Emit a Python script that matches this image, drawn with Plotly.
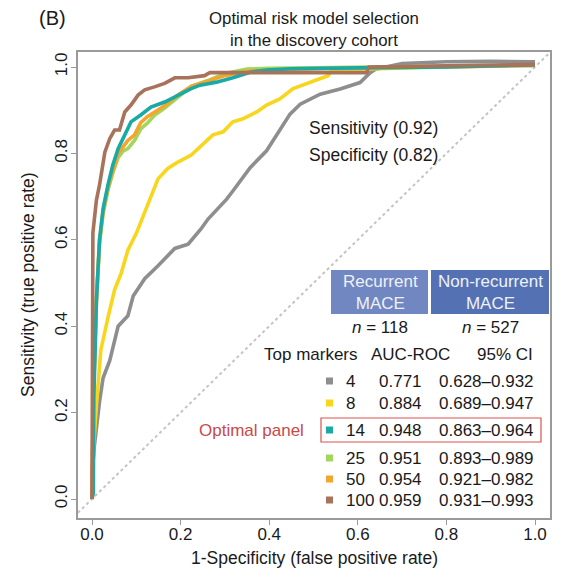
import plotly.graph_objects as go

# ---------------- data ----------------
models = ["4", "8", "14", "25", "50", "100"]
auc = ["0.771", "0.884", "0.948", "0.951", "0.954", "0.959"]
ci = ["0.628–0.932", "0.689–0.947", "0.863–0.964", "0.893–0.989", "0.921–0.982", "0.931–0.993"]
colors = ["#8e8e8e", "#f7d61c", "#19aaa6", "#a3d65c", "#f5a52d", "#a8725b"]

grey_fpr = [0, 0.0, 0.005, 0.012, 0.017, 0.025, 0.04, 0.059, 0.081, 0.093, 0.119, 0.149, 0.187, 0.217,
            0.246, 0.262, 0.304, 0.318, 0.357, 0.394, 0.424, 0.447, 0.470, 0.515, 0.56, 0.605, 0.628,
            0.64, 0.7, 0.8, 0.9, 1.0]
grey_tpr = [0, 0.05, 0.12, 0.19, 0.225, 0.28, 0.32, 0.40, 0.424, 0.47, 0.51, 0.54, 0.58, 0.59,
            0.625, 0.648, 0.694, 0.713, 0.767, 0.806, 0.852, 0.891, 0.914, 0.937, 0.949, 0.964, 0.987,
            0.995, 1.008, 1.012, 1.013, 1.012]

yel_fpr = [0, 0.002, 0.0098, 0.02, 0.036, 0.051, 0.066, 0.081, 0.1, 0.119, 0.13, 0.149, 0.171, 0.194,
           0.224, 0.244, 0.273, 0.296, 0.318, 0.341, 0.372, 0.394, 0.424, 0.454, 0.485, 0.521, 0.533,
           0.54, 0.6, 0.8, 1.0]
yel_tpr = [0, 0.1, 0.214, 0.345, 0.42, 0.484, 0.523, 0.576, 0.615, 0.662, 0.692, 0.741, 0.765, 0.78,
           0.796, 0.815, 0.843, 0.85, 0.873, 0.88, 0.896, 0.912, 0.926, 0.95, 0.962, 0.977, 0.98,
           0.99, 0.995, 1.0, 1.005]

teal_fpr = [0, 0.003, 0.004, 0.007, 0.01, 0.017, 0.025, 0.036, 0.047, 0.059, 0.074, 0.088, 0.11, 0.133,
            0.164, 0.194, 0.224, 0.244, 0.281, 0.318, 0.357, 0.394, 0.45, 0.6, 0.8, 1.0]
teal_tpr = [0, 0.014, 0.23, 0.36, 0.46, 0.6, 0.672, 0.727, 0.773, 0.811, 0.843, 0.873, 0.889, 0.907,
            0.919, 0.935, 0.95, 0.958, 0.965, 0.975, 0.988, 0.993, 0.996, 0.998, 1.0, 1.005]

green_fpr = [0, 0.003, 0.01, 0.017, 0.025, 0.036, 0.047, 0.059, 0.07, 0.081, 0.096, 0.11, 0.125, 0.141,
             0.164, 0.194, 0.224, 0.26, 0.3, 0.35, 0.4, 0.5, 0.6, 0.8, 1.0]
green_tpr = [0, 0.23, 0.46, 0.59, 0.66, 0.715, 0.755, 0.79, 0.805, 0.811, 0.83, 0.857, 0.87, 0.888,
             0.905, 0.93, 0.955, 0.968, 0.985, 0.995, 0.997, 0.998, 1.0, 1.002, 1.005]

orange_fpr = [0, 0.003, 0.01, 0.017, 0.025, 0.036, 0.047, 0.059, 0.07, 0.081, 0.096, 0.11, 0.125, 0.141,
              0.164, 0.194, 0.224, 0.26, 0.3, 0.35, 0.45, 0.6, 0.8, 1.0]
orange_tpr = [0, 0.23, 0.46, 0.6, 0.665, 0.72, 0.76, 0.80, 0.815, 0.83, 0.843, 0.871, 0.885, 0.896,
              0.91, 0.935, 0.955, 0.967, 0.98, 0.99, 0.995, 0.998, 1.0, 1.003]

brown_fpr = [0, 0.0, 0.0, 0.0, 0.002, 0.01, 0.017, 0.029, 0.04, 0.051, 0.062, 0.074, 0.088, 0.104,
             0.119, 0.141, 0.164, 0.187, 0.217, 0.254, 0.266, 0.4, 0.62, 0.625, 0.8, 1.0]
brown_tpr = [0, 0.23, 0.46, 0.55, 0.616, 0.692, 0.727, 0.803, 0.834, 0.854, 0.854, 0.896, 0.912, 0.935,
             0.947, 0.954, 0.962, 0.975, 0.975, 0.98, 0.987, 0.987, 0.987, 1.0, 1.003, 1.006]

curves = [(grey_fpr, grey_tpr), (yel_fpr, yel_tpr), (green_fpr, green_tpr),
          (orange_fpr, orange_tpr), (teal_fpr, teal_tpr), (brown_fpr, brown_tpr)]
curve_idx = [0, 1, 3, 4, 2, 5]  # draw order: grey, yellow, green, orange, teal, brown

x_ticks = [0.0, 0.2, 0.4, 0.6, 0.8, 1.0]
y_ticks = [0.0, 0.2, 0.4, 0.6, 0.8, 1.0]

# ---------------- layout geometry ----------------
W, H = 564, 577
L, R, T, B = 78, 550, 52, 518
FONT = "Liberation Sans, Arial, sans-serif"


def px(x):
    return (x - L) / (R - L)


def py(y):
    return (B - y) / (B - T)


fig = go.Figure()

# diagonal reference
fig.add_trace(go.Scatter(x=[-0.1, 1.1], y=[-0.1, 1.1], mode="lines",
                         line=dict(color="#c4c4c4", width=2, dash="dot"),
                         hoverinfo="skip", showlegend=False))

for k, (fx, ty) in zip(curve_idx, curves):
    fig.add_trace(go.Scatter(x=fx, y=ty, mode="lines", name=models[k],
                             line=dict(color=colors[k], width=3.6),
                             showlegend=False))

ann = []
shapes = []


def text(x, y, s, size=17, color="#1a1a1a", xanchor="left", **kw):
    ann.append(dict(x=px(x), y=py(y), xref="paper", yref="paper", text=s, showarrow=False,
                    xanchor=xanchor, yanchor="middle", font=dict(family=FONT, size=size, color=color),
                    **kw))


# title and panel label
text(314, 29, "Optimal risk model selection<br>in the discovery cohort", size=16.8, xanchor="center")
text(37, 18, "(B)", size=20)

# axis titles
text(314, 558, "1-Specificity (false positive rate)", size=17.5, xanchor="center")
text(28, 285, "Sensitivity (true positive rate)", size=17.5, xanchor="center", textangle=-90)

# sens / spec
text(307, 128, "Sensitivity (0.92)", size=17.5)
text(307, 155, "Specificity (0.82)", size=17.5)

# header boxes
shapes.append(dict(type="rect", xref="paper", yref="paper", x0=px(331), x1=px(428), y0=py(270), y1=py(314),
                   fillcolor="#7187c1", line=dict(width=0), layer="above"))
shapes.append(dict(type="rect", xref="paper", yref="paper", x0=px(431), x1=px(549), y0=py(270), y1=py(314),
                   fillcolor="#5471b4", line=dict(width=0), layer="above"))
text(380, 292, "Recurrent<br>MACE", color="#eef1f8", xanchor="center")
text(490, 292, "Non-recurrent<br>MACE", color="#eef1f8", xanchor="center")
text(380, 327, "<i>n</i> = 118", xanchor="center")
text(490, 327, "<i>n</i> = 527", xanchor="center")

# table header
text(262, 355, "Top markers")
text(369, 355, "AUC-ROC")
text(475, 355, "95% CI")

row_y = [381, 403, 430, 458, 479, 500]
for i in range(6):
    y = row_y[i]
    shapes.append(dict(type="rect", xref="paper", yref="paper", x0=px(326), x1=px(333),
                       y0=py(y - 3.5), y1=py(y + 3.5), fillcolor=colors[i], line=dict(width=0),
                       layer="above"))
    text(344, y, models[i])
    text(377, y, auc[i])
    text(437, y, ci[i])

# optimal panel highlight
shapes.append(dict(type="rect", xref="paper", yref="paper", x0=px(321), x1=px(541), y0=py(418), y1=py(442),
                   line=dict(color="#d9534f", width=1.2), fillcolor="rgba(0,0,0,0)", layer="above"))
text(306, 430, "Optimal panel", color="#c9494a", xanchor="right")

fig.update_layout(
    width=W, height=H,
    margin=dict(l=L, r=W - R, t=T, b=H - B, pad=0),
    paper_bgcolor="white", plot_bgcolor="white",
    annotations=ann, shapes=shapes,
    font=dict(family=FONT, size=17, color="#1a1a1a"),
    showlegend=False,
)

xr0 = -(92 - L) / 443
xr1 = (R - 92) / 443
yr0 = -(B - 499) / 432
yr1 = (499 - T) / 432

fig.update_xaxes(range=[xr0, xr1], tickvals=x_ticks, ticktext=[f"{v:.1f}" for v in x_ticks],
                 showgrid=False, zeroline=False, showline=True, mirror=True, linecolor="#9a9a9a",
                 linewidth=2, ticks="outside", ticklen=5, tickcolor="#9a9a9a", tickwidth=1,
                 ticklabelstandoff=-5,
                 tickfont=dict(family=FONT, size=17, color="#1a1a1a"))
fig.update_yaxes(range=[yr0, yr1], tickvals=y_ticks, ticktext=[f"{v:.1f}" for v in y_ticks],
                 showgrid=False, zeroline=False, showline=True, mirror=True, linecolor="#9a9a9a",
                 linewidth=2, ticks="outside", ticklen=5, tickcolor="#9a9a9a", tickwidth=1,
                 ticklabelstandoff=-3,
                 tickangle=-90, tickfont=dict(family=FONT, size=17, color="#1a1a1a"))

fig.write_html("out.html")
